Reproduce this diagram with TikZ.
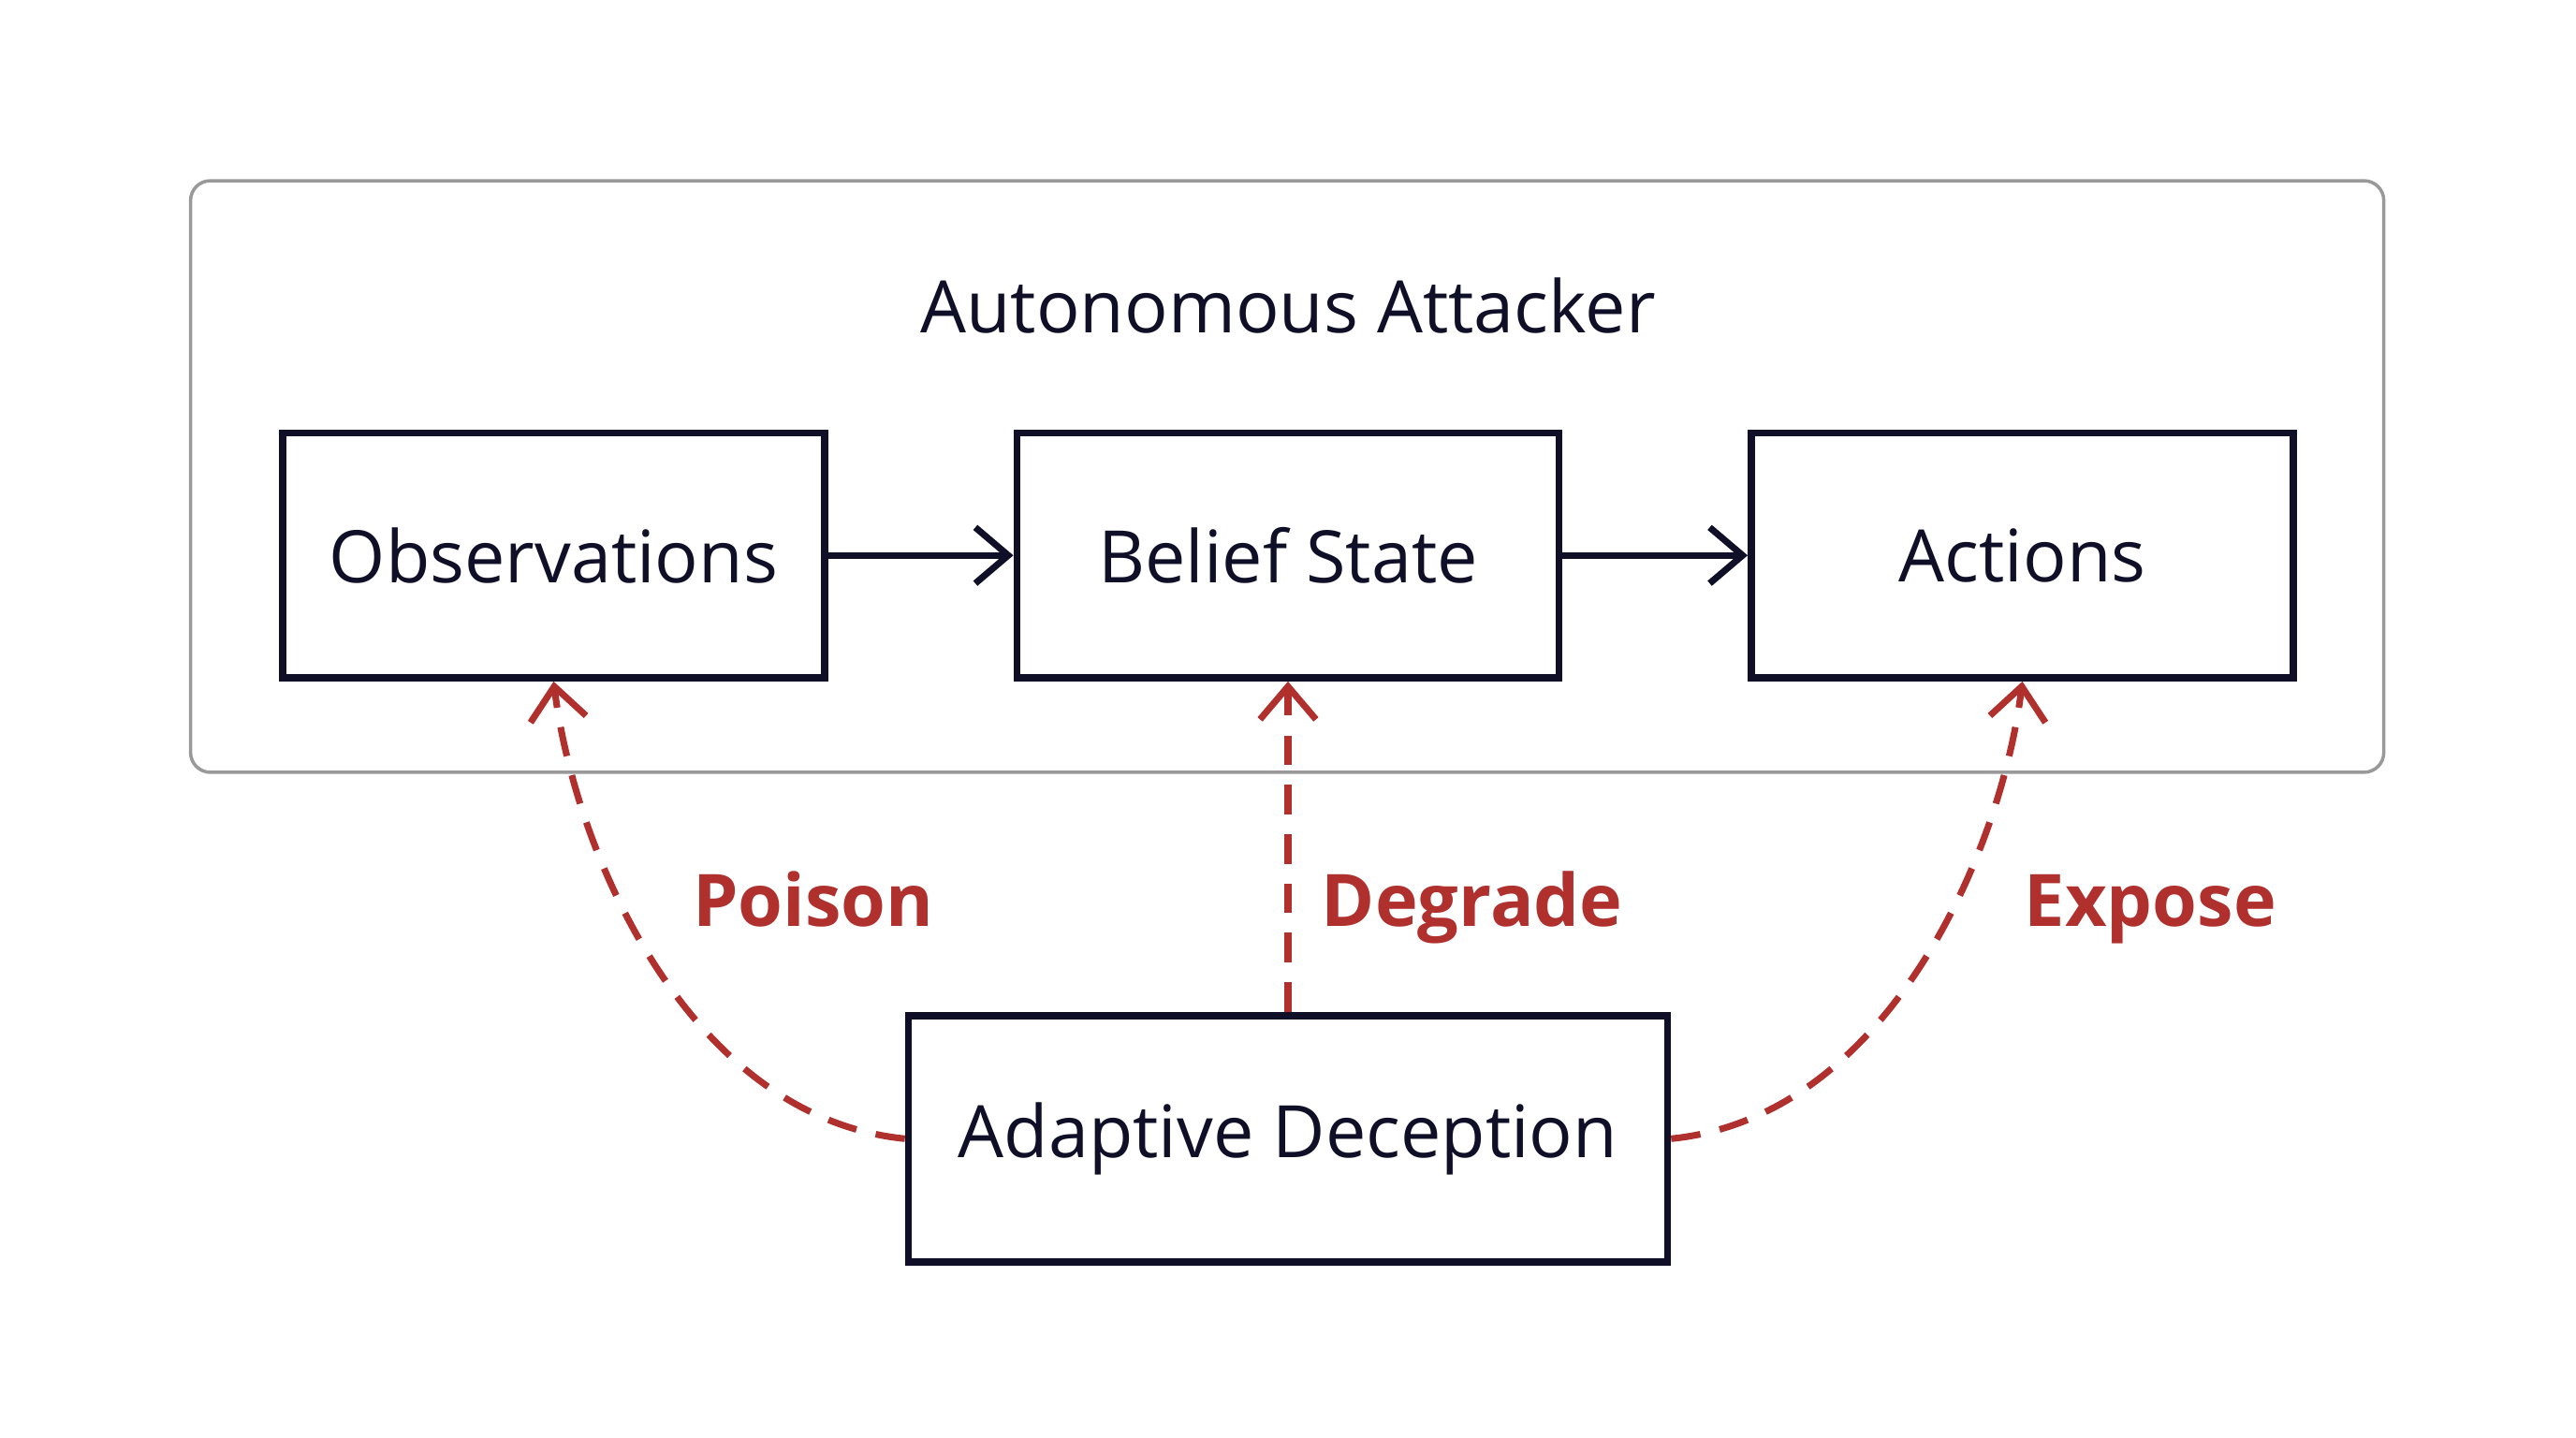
\documentclass[tikz,border=0pt]{standalone}
\usepackage{fontspec}
\setmainfont{Open Sans}
\usetikzlibrary{arrows.meta}
\definecolor{ink}{HTML}{0F1028}
\definecolor{redc}{HTML}{B0302E}
\begin{document}
\begin{tikzpicture}[x=0.01755cm,y=-0.01755cm,
  boxst/.style={draw=ink,line width=2.2pt,minimum width=330*0.01755cm,minimum height=149*0.01755cm,inner sep=0pt,text=ink,font=\fontsize{22}{26}\selectfont},
  flow/.style={draw=ink,line width=2pt,-{Straight Barb[length=10pt,width=17pt,line width=2pt]}},
  dec/.style={draw=redc,line width=2pt,dash pattern=on 9pt off 6pt,-{Straight Barb[length=10pt,width=17pt,line width=2pt]}},
  lab/.style={text=redc,anchor=base,font=\fontsize{22}{26}\selectfont\bfseries}]
\useasboundingbox (0,0) rectangle (1568,875);
\fill[white] (0,0) rectangle (1568,875);
\draw[draw=gray!80,line width=1pt,rounded corners=6pt] (116,110) rectangle (1451,470);
\node[text=ink,font=\fontsize{22}{26}\selectfont] (title) at (784,186) {Autonomous Attacker};
\node[boxst] (obs) at (337,338) {Observations};
\node[boxst] (bel) at (784,338) {Belief State};
\node[boxst] (act) at (1231,338) {Actions};
\node[boxst,minimum width=462*0.01755cm,minimum height=150*0.01755cm] (ad) at (784,693) {Adaptive Deception};
\draw[flow] (obs.east) -- (bel.west);
\draw[flow] (bel.east) -- (act.west);
\draw[dec] (ad.west) .. controls (420,680) and (350,520) .. (obs.south);
\draw[dec] (ad.north) -- (bel.south);
\draw[dec] (ad.east) .. controls (1148,680) and (1218,520) .. (act.south);
\node[lab] (p) at (495,564) {Poison};
\node[lab] (d) at (896,564) {Degrade};
\node[lab] (e) at (1309,564) {Expose};
\end{tikzpicture}
\end{document}
